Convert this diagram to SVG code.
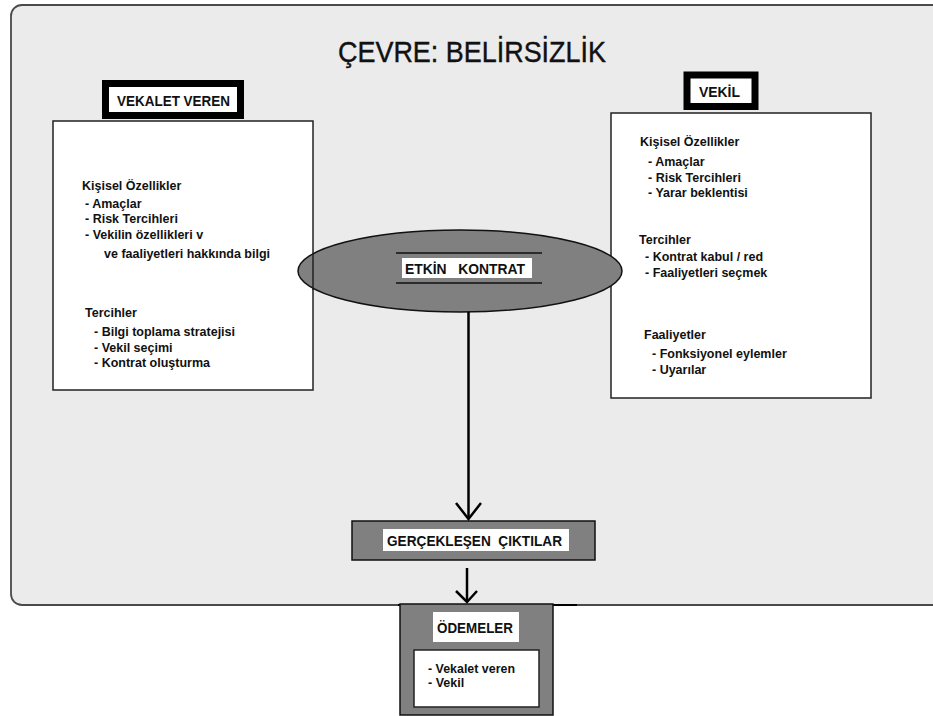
<svg xmlns="http://www.w3.org/2000/svg" width="933" height="716" viewBox="0 0 933 716">
<defs>
<style>
text{font-family:"Liberation Sans",Arial,sans-serif;fill:#111;white-space:pre;}
.b{font-weight:bold;font-size:12.5px;}
.lbl{font-weight:bold;font-size:15px;}
.box{fill:#fff;stroke:#222;stroke-width:1.5;}
.tag{fill:#fff;stroke:#000;stroke-width:7;}
.gray{fill:#808080;stroke:#111;stroke-width:1.5;}
.conn{stroke:#000;stroke-width:2.5;fill:none;}
</style>
</defs>
<rect width="933" height="716" fill="#fff"/>
<g id="frame">
<rect x="11" y="5" width="940" height="600" rx="11" fill="#ebebeb" stroke="#4a4a4a" stroke-width="1.8"/>
<text x="338" y="62" font-size="29" textLength="268" lengthAdjust="spacingAndGlyphs" stroke="#111" stroke-width="0.4">ÇEVRE: BELİRSİZLİK</text>
</g>
<g id="vekalet-veren">
<rect class="box" x="53" y="121" width="260" height="269"/>
<rect class="tag" x="105.5" y="83.5" width="135" height="32"/>
<text class="lbl" x="117" y="106" font-size="14" textLength="113" lengthAdjust="spacingAndGlyphs">VEKALET VEREN</text>
<text class="b" x="82" y="190">Kişisel Özellikler</text>
<text class="b" x="85" y="208">- Amaçlar</text>
<text class="b" x="85" y="223">- Risk Tercihleri</text>
<text class="b" x="85" y="239">- Vekilin özellikleri v</text>
<text class="b" x="104" y="258">ve faaliyetleri hakkında bilgi</text>
<text class="b" x="85" y="317">Tercihler</text>
<text class="b" x="94" y="336">- Bilgi toplama stratejisi</text>
<text class="b" x="94" y="352">- Vekil seçimi</text>
<text class="b" x="94" y="367">- Kontrat oluşturma</text>
</g>
<g id="vekil">
<rect class="box" x="611" y="113" width="260" height="285"/>
<rect class="tag" x="687" y="75" width="68" height="31.5"/>
<text class="lbl" x="699" y="97" font-size="13" textLength="41" lengthAdjust="spacingAndGlyphs">VEKİL</text>
<text class="b" x="640" y="146">Kişisel Özellikler</text>
<text class="b" x="648" y="166">- Amaçlar</text>
<text class="b" x="648" y="182">- Risk Tercihleri</text>
<text class="b" x="648" y="197">- Yarar beklentisi</text>
<text class="b" x="639" y="244">Tercihler</text>
<text class="b" x="645" y="261">- Kontrat kabul / red</text>
<text class="b" x="645" y="277">- Faaliyetleri seçmek</text>
<text class="b" x="644" y="339">Faaliyetler</text>
<text class="b" x="652" y="358">- Fonksiyonel eylemler</text>
<text class="b" x="652" y="374">- Uyarılar</text>
</g>
<g id="etkin-kontrat">
<ellipse cx="460" cy="271" rx="162" ry="41" fill="#808080" stroke="#111" stroke-width="1.5"/>
<line x1="313" y1="254" x2="313" y2="290" stroke="#222" stroke-width="1.5"/>
<line x1="396" y1="253" x2="542" y2="253" stroke="#111" stroke-width="1.5"/>
<line x1="396" y1="283" x2="542" y2="283" stroke="#111" stroke-width="1.5"/>
<rect x="402" y="258" width="130" height="20" fill="#fff"/>
<text class="lbl" x="405" y="274" textLength="120" lengthAdjust="spacingAndGlyphs">ETKİN   KONTRAT</text>
</g>
<g id="gerceklesen-ciktilar">
<rect class="gray" x="352" y="521" width="243" height="39"/>
<rect x="383" y="529" width="186" height="22" fill="#fff"/>
<text class="lbl" x="387" y="546" textLength="175" lengthAdjust="spacingAndGlyphs">GERÇEKLEŞEN  ÇIKTILAR</text>
</g>
<g id="odemeler">
<line x1="398" y1="605" x2="577" y2="605" stroke="#000" stroke-width="2.2"/>
<rect class="gray" x="400" y="604" width="153" height="111"/>
<rect x="433" y="612" width="86" height="30" fill="#fff"/>
<text class="lbl" x="437" y="633" textLength="76" lengthAdjust="spacingAndGlyphs">ÖDEMELER</text>
<rect class="box" x="414" y="650" width="125" height="57"/>
<text class="b" x="428" y="673" font-size="11.5" textLength="87" lengthAdjust="spacingAndGlyphs">- Vekalet veren</text>
<text class="b" x="428" y="687" font-size="11.5">- Vekil</text>
</g>
<g id="connectors">
<line class="conn" x1="468.5" y1="312" x2="468.5" y2="519"/>
<polyline class="conn" points="456,503 468.5,519 481,503"/>
<line class="conn" x1="467" y1="568" x2="467" y2="602"/>
<polyline class="conn" points="456,591 467,602 477,591"/>
</g>
</svg>
